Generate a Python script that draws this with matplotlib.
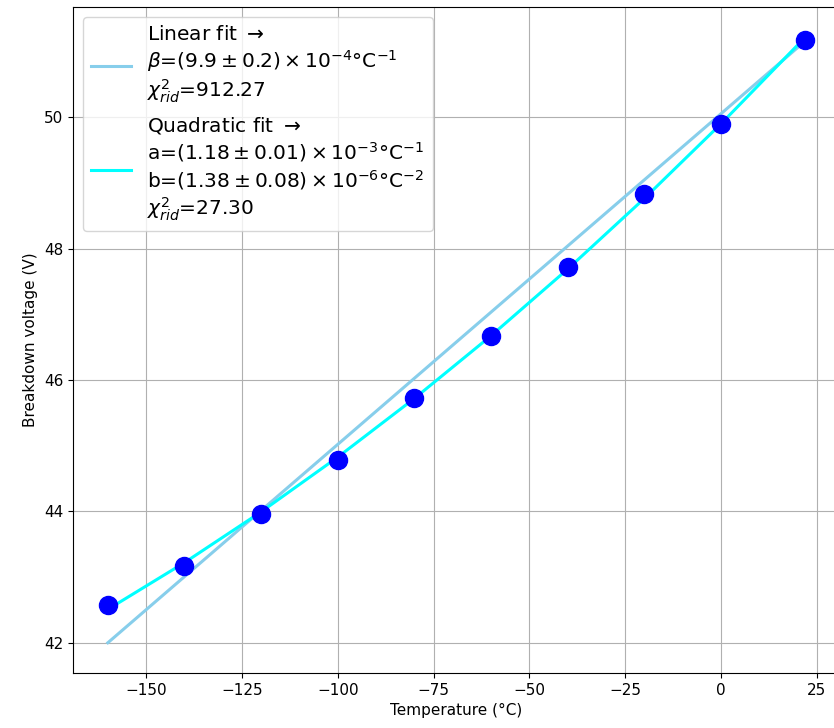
import numpy as np
import matplotlib
matplotlib.use("Agg")
import matplotlib.pyplot as plt

# Data
temperature = np.array([-160, -140, -120, -100, -80, -60, -40, -20, 0, 22])
voltage = np.array([42.58, 43.17, 43.96, 44.79, 45.72, 46.67, 47.72, 48.83, 49.89, 51.17])

# Linear fit line
lin_slope = 0.0503
lin_intercept = 50.05

lin_label = ('Linear fit $\\rightarrow$\n'
             '$\\beta$=$(9.9 \\pm 0.2) \\times 10^{-4}$°C$^{-1}$\n'
             '$\\chi^2_{rid}$=912.27')
quad_label = ('Quadratic fit $\\rightarrow$\n'
              'a=$(1.18 \\pm 0.01) \\times 10^{-3}$°C$^{-1}$\n'
              'b=$(1.38 \\pm 0.08) \\times 10^{-6}$°C$^{-2}$\n'
              '$\\chi^2_{rid}$=27.30')

x_ticks = [-150, -125, -100, -75, -50, -25, 0, 25]
y_ticks = [42, 44, 46, 48, 50]

fig = plt.figure(figsize=(8.34, 7.28), dpi=100)
ax = fig.add_axes([0.0875, 0.0755, 0.9197, 0.9148])

lin_vals = lin_intercept + lin_slope * temperature
quad_coef = np.polyfit(temperature, voltage, 2)
quad_vals = np.polyval(quad_coef, temperature)

ax.plot(temperature, lin_vals, color='skyblue', lw=2.2, label=lin_label, zorder=2)
ax.plot(temperature, quad_vals, color='cyan', lw=2.2, label=quad_label, zorder=3)
ax.plot(temperature, voltage, 'o', color='blue', markersize=13, zorder=4)

ax.set_xticks(x_ticks)
ax.set_yticks(y_ticks)
ax.tick_params(labelsize=11)
ax.grid(True)
ax.set_xlabel('Temperature (°C)', fontsize=11)
ax.set_ylabel('Breakdown voltage (V)', fontsize=11)
ax.legend(loc='upper left', fontsize=14.5, labelspacing=0.5)

fig.savefig('out.png', dpi=100)
